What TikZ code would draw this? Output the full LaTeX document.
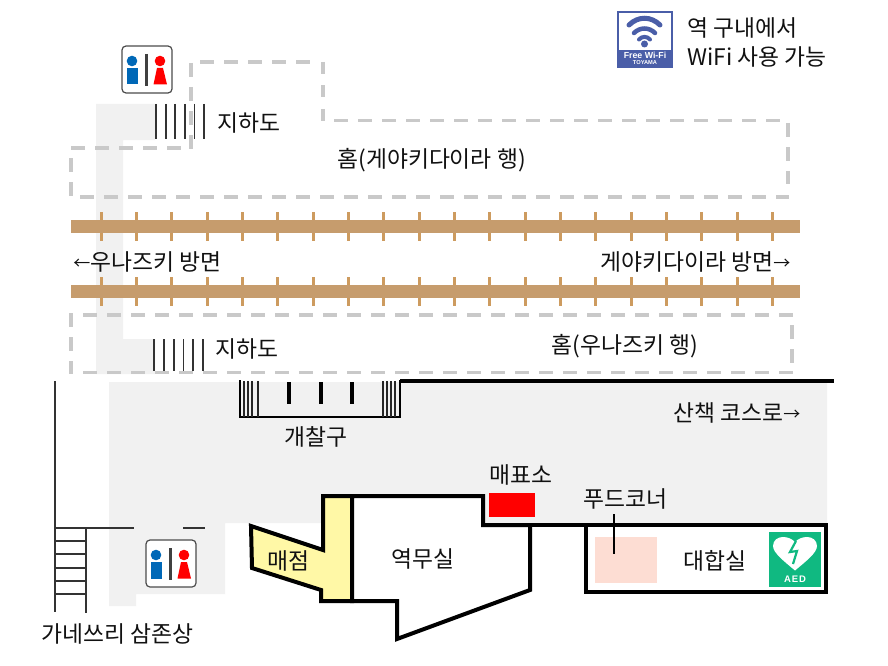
\documentclass[tikz,border=0pt]{standalone}
\usepackage{fontspec}
\setmainfont{Noto Sans CJK KR}
\newfontfamily\latinbold{Liberation Sans}
\definecolor{wallgray}{HTML}{F1F1F1}
\definecolor{dashgray}{HTML}{C9C9C9}
\definecolor{track}{HTML}{C69C6D}
\definecolor{tiecol}{HTML}{CD9B5F}
\definecolor{shop}{HTML}{FFF8A6}
\definecolor{wifi}{HTML}{4A5EA8}
\definecolor{aedgreen}{HTML}{10B981}
\definecolor{wcblue}{HTML}{0068B7}
\definecolor{foodpink}{HTML}{FDDDD3}
\definecolor{ink}{HTML}{111111}
\tikzset{
  lbl/.style={anchor=west,inner sep=0pt,xshift=-0.8pt,yshift=-1pt,font=\fontsize{22.8}{26}\selectfont,text=ink},
  platform/.style={draw=dashgray,line width=3.5pt,dash pattern=on 14pt off 10pt},
  wall/.style={draw=black,line width=4pt,miter limit=10},
  thin wall/.style={draw=black!80,line width=2pt},
  hatchline/.style={draw=black!80,line width=1.8pt},
  tie/.style={draw=tiecol,line width=3pt},
}
\newcommand{\wcicon}[2]{%
  \begin{scope}[shift={(#1,#2)}]
    \draw[draw=black!70,fill=white,line width=1.2pt,rounded corners=4pt] (0,0) rectangle (50,47);
    \fill[wcblue] (10,15) circle (5.3pt);
    \fill[wcblue] (5,22) rectangle (15.5,38.5);
    \draw[draw=black!75,line width=2.5pt] (24.5,8) -- (24.5,40);
    \fill[red] (38,15) circle (5.3pt);
    \fill[red] (35,22) -- (41,22) -- (45,38.5) -- (31.5,38.5) -- cycle;
  \end{scope}}
\newcommand{\smallarrow}[1]{\raisebox{1pt}{\fontsize{17}{24}\selectfont #1}}
\begin{document}
\begin{tikzpicture}[x=1pt,y=-1pt]
\useasboundingbox (0,0) rectangle (888,666);
\fill[white] (0,0) rectangle (888,666);
% gray walkways
\fill[wallgray] (96,104) -- (155,104) -- (155,140) -- (123,140) -- (123,339) -- (155,339) -- (155,374) -- (96,374) -- cycle;
\fill[wallgray] (109,382) -- (827,382) -- (827,523) -- (225,523) -- (225,594) -- (136,594) -- (136,606) -- (109,606) -- cycle;
% platforms
\draw[platform] (191,63) -- (191,150);
\draw[platform] (200,62) -- (310,62);
\draw[platform,dash pattern=on 12pt off 11.5pt] (323,62) -- (323,122);
\draw[platform] (334,120.5) -- (780,120.5);
\draw[platform] (788,123) -- (788,184);
\draw[platform] (71,158) -- (71,197);
\draw[platform] (71,148) -- (182,148);
\draw[platform] (80,197) -- (789,197);
\draw[platform] (71,313) -- (71,374);
\draw[platform] (83,315) -- (793,315);
\draw[platform] (792,325) -- (792,364);
\draw[platform] (83,372.5) -- (793,372.5);
% tracks
\foreach \i in {0,...,19} {
  \draw[tie] ({101+35.35*\i},212) -- ({101+35.35*\i},241);
  \draw[tie] ({101+35.35*\i},277) -- ({101+35.35*\i},306);
}
\fill[track] (71,220) rectangle (800,233);
\fill[track] (71,285) rectangle (800,298);
% underpass hatches
\foreach \x in {156,165.6,175.2,184.8,194.4,204} \draw[hatchline] (\x,104) -- (\x,139);
\foreach \x in {154,163.8,173.6,183.4,193.2,203} \draw[hatchline] (\x,339) -- (\x,371);
% gate
\draw[draw=black,line width=2pt] (240,380) -- (240,417) -- (400,417) -- (400,380);
\foreach \x in {244,248,252,258,383,387,391,395} \draw[draw=black!85,line width=1.2pt] (\x,381) -- (\x,417);
\foreach \x in {289,321,352} \draw[draw=black,line width=4pt] (\x,382) -- (\x,404);
\draw[wall] (400,381) -- (834,381);
% west wall and stairs
\draw[thin wall] (55,381) -- (55,612);
\draw[thin wall] (86,528) -- (86,613);
\foreach \y in {541,554,568,581,594} \draw[thin wall] (55,\y) -- (86,\y);
\draw[thin wall] (55,528) -- (134,528);
\draw[thin wall] (183,528) -- (205,528);
% kiosk and office
\draw[wall,fill=shop] (251,526) -- (323,550) -- (323,496) -- (352,496) -- (352,601) -- (321,601) -- (321,590) -- (252,568) -- cycle;
\draw[wall,fill=white] (352,496) -- (483,496) -- (483,525) -- (530,525) -- (530,590) -- (397,639) -- (397,601) -- (352,601) -- cycle;
\draw[wall] (483,525) -- (585,525);
\draw[wall,fill=white] (586,525) rectangle (826,592);
\fill[red] (489,493) rectangle (535,517);
\fill[foodpink] (595,537) rectangle (657,583);
% AED
\fill[aedgreen] (769,532) rectangle (821,587);
\fill[white] (795,570.5) .. controls (785,562) and (773,553) .. (773,546) .. controls (773,540) and (778,537) .. (783,537) .. controls (788,537) and (792,539) .. (795,542) .. controls (798,539) and (802,537) .. (807,537) .. controls (812,537) and (817,540) .. (817,546) .. controls (817,553) and (805,562) .. (795,570.5) -- cycle;
\draw[draw=aedgreen,line width=2.2pt,line join=miter] (796,541) -- (790,552) -- (797,551) -- (793,564);
\node[inner sep=0pt,text=white,font=\latinbold\fontsize{9.5}{10}\selectfont\bfseries\addfontfeature{LetterSpace=10}] (aedtext) at (795,579) {AED};
% wifi
\draw[draw=wifi,fill=white,line width=2pt] (618,12) rectangle (672,67);
\fill[wifi] (618,50) rectangle (672,67);
\draw[draw=wifi,line width=5pt,line cap=round] (629,25) .. controls (638,16) and (651,16) .. (660,25);
\draw[draw=wifi,line width=4.5pt,line cap=round] (634,33) .. controls (640,27) and (649,27) .. (655,33);
\draw[draw=wifi,line width=4pt,line cap=round] (639,39.5) .. controls (642,36) and (647,36) .. (650,39.5);
\fill[wifi] (644.5,44) circle (3.5pt);
\node[inner sep=0pt,text=white,font=\latinbold\fontsize{8.8}{9}\selectfont\bfseries] (wifitext) at (645,55.5) {Free Wi-Fi};
\node[inner sep=0pt,text=white,font=\latinbold\fontsize{5.7}{6}\selectfont\bfseries] (toyama) at (645,63) {TOYAMA};
% wc
\wcicon{122}{46}
\wcicon{146}{540}
% labels
\node[lbl] (wifia) at (688,27) {역 구내에서};
\node[lbl] (wifib) at (688,56) {WiFi 사용 가능};
\node[lbl] (ua) at (218,122) {지하도};
\node[lbl] (pa) at (338,159) {홈(게야키다이라 행)};
\node[lbl] (dl) at (74,261) {\smallarrow{←}우나즈키 방면};
\node[lbl] (dr) at (601,261) {게야키다이라 방면\smallarrow{→}};
\node[lbl] (ub) at (216,348) {지하도};
\node[lbl] (pb) at (552,345) {홈(우나즈키 행)};
\node[lbl] (gate) at (285,436) {개찰구};
\node[lbl] (walk) at (674,412) {산책 코스로\smallarrow{→}};
\node[lbl] (ticket) at (490,474) {매표소};
\node[lbl] (food) at (584,498) {푸드코너};
\node[lbl] (wait) at (684,560) {대합실};
\node[lbl] (office) at (392,558) {역무실};
\node[lbl] (kiosk) at (268,560) {매점};
\node[lbl] (statue) at (42,633) {가네쓰리 삼존상};
% food corner pointer
\coordinate (foodspot) at (614,554);
\coordinate (foodtop) at (614,514);
\draw[draw=black,line width=2pt] (foodtop) -- (foodspot);
\end{tikzpicture}
\end{document}
